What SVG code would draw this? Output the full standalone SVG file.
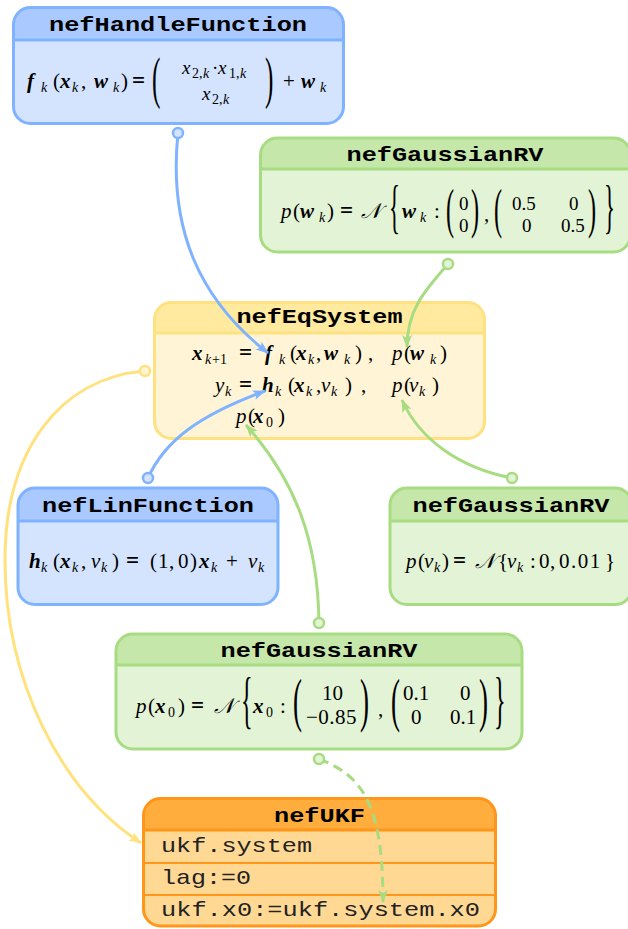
<svg xmlns="http://www.w3.org/2000/svg" width="628" height="929" viewBox="0 0 628 929">
<style>
.ttl{font-family:"Liberation Mono","DejaVu Sans Mono",monospace;font-weight:bold;font-size:21px;fill:#000;text-anchor:middle}
.row{font-family:"Liberation Mono","DejaVu Sans Mono",monospace;font-size:21px;fill:#222}
.m{font-family:"Liberation Serif","DejaVu Serif",serif;font-size:21px;fill:#000}
.i{font-style:italic}
.b{font-style:italic;font-weight:bold}
.s{font-size:14px;font-style:italic;font-weight:normal}
.n{font-size:14px;font-style:normal;font-weight:normal}
.mx{font-size:19px}
.eq{font-weight:bold;font-size:23px}
.dl{font-family:"Liberation Serif","DejaVu Serif",serif;fill:#000}
.cal{font-family:"Liberation Serif","DejaVu Serif","DejaVu Sans",serif;font-style:italic}
.bl .bd{fill:#d4e4fe}.bl .hd{fill:#a9c9ff}.bl .ol{fill:none;stroke:#80b3ff;stroke-width:3}.bl .dv{stroke:#80b3ff;stroke-width:3}
.gr .bd{fill:#e3f3d6}.gr .hd{fill:#c5e8aa}.gr .ol{fill:none;stroke:#a8dc82;stroke-width:3}.gr .dv{stroke:#a8dc82;stroke-width:3}
.ye .bd{fill:#fff5d6}.ye .hd{fill:#ffeaa0}.ye .ol{fill:none;stroke:#ffe180;stroke-width:3}.ye .dv{stroke:#ffe180;stroke-width:3}
.or .bd{fill:#ffd894}.or .hd{fill:#ffad3c}.or .ol{fill:none;stroke:#ff9619;stroke-width:3}.or .dv{stroke:#ff9619;stroke-width:3}.or .dv2{stroke:#ff9619;stroke-width:2}
.cn{fill:none;stroke-width:3}
.cb{stroke:#80b3ff;marker-start:url(#ciB);marker-end:url(#arB)}
.cg{stroke:#a8dc82;marker-start:url(#ciG);marker-end:url(#arG)}
.cy{stroke:#ffe27e;marker-start:url(#ciY);marker-end:url(#arY)}
</style>
<defs>
<marker id="arB" markerWidth="14" markerHeight="12" refX="12" refY="6" orient="auto" markerUnits="userSpaceOnUse" overflow="visible"><path d="M0,1 L13,6 L0,11 L3,6 Z" fill="#80b3ff"/></marker>
<marker id="arG" markerWidth="14" markerHeight="12" refX="12" refY="6" orient="auto" markerUnits="userSpaceOnUse" overflow="visible"><path d="M0,1 L13,6 L0,11 L3,6 Z" fill="#a8dc82"/></marker>
<marker id="arY" markerWidth="14" markerHeight="12" refX="12" refY="6" orient="auto" markerUnits="userSpaceOnUse" overflow="visible"><path d="M0,1 L13,6 L0,11 L3,6 Z" fill="#ffe27e"/></marker>
<marker id="ciB" markerWidth="14" markerHeight="14" refX="7" refY="7" markerUnits="userSpaceOnUse" overflow="visible"><circle cx="7" cy="7" r="5" fill="#d4e4fe" stroke="#80b3ff" stroke-width="2.5"/></marker>
<marker id="ciG" markerWidth="14" markerHeight="14" refX="7" refY="7" markerUnits="userSpaceOnUse" overflow="visible"><circle cx="7" cy="7" r="5" fill="#e3f3d6" stroke="#a8dc82" stroke-width="2.5"/></marker>
<marker id="ciY" markerWidth="14" markerHeight="14" refX="7" refY="7" markerUnits="userSpaceOnUse" overflow="visible"><circle cx="7" cy="7" r="5" fill="#fff5d6" stroke="#ffe27e" stroke-width="2.5"/></marker>
</defs>
<rect width="628" height="929" fill="#fff"/>

<g id="nefHandleFunction" class="bl">
<rect class="bd" x="13.5" y="7.5" width="330" height="116" rx="17"/>
<path class="hd" d="M13.5,40 V24.5 A17,17 0 0 1 30.5,7.5 H326.5 A17,17 0 0 1 343.5,24.5 V40 Z"/>
<line class="dv" x1="13.5" y1="40" x2="343.5" y2="40"/>
<rect class="ol" x="13.5" y="7.5" width="330" height="116" rx="17"/>
<text class="ttl" x="178" y="31" textLength="258" lengthAdjust="spacingAndGlyphs">nefHandleFunction</text>
<text class="m"><tspan class="b" x="27" y="88">f</tspan><tspan class="s" x="41" y="92">k</tspan><tspan x="53" y="88">(</tspan><tspan class="b" x="60" y="88">x</tspan><tspan class="s" x="72" y="92">k</tspan><tspan x="81" y="88">,</tspan><tspan class="b" x="94" y="88">w</tspan><tspan class="s" x="113" y="92">k</tspan><tspan x="121" y="88">)</tspan><tspan class="eq" x="132" y="88">=</tspan><tspan x="283" y="88">+</tspan><tspan class="b" x="301" y="88">w</tspan><tspan class="s" x="320" y="92">k</tspan></text>
<text class="m mx"><tspan class="i" x="182" y="74">x</tspan><tspan class="n" x="192" y="77.5">2,</tspan><tspan class="s" x="203" y="77.5">k</tspan><tspan x="212" y="74">·</tspan><tspan class="i" x="218" y="74">x</tspan><tspan class="n" x="229" y="77.5">1,</tspan><tspan class="s" x="240" y="77.5">k</tspan></text>
<text class="m mx"><tspan class="i" x="202" y="100">x</tspan><tspan class="n" x="212" y="103.5">2,</tspan><tspan class="s" x="223" y="103.5">k</tspan></text>
<text class="dl" font-size="56" transform="translate(152,96.5) scale(0.45,1)">(</text>
<text class="dl" font-size="56" transform="translate(265,96.5) scale(0.45,1)">)</text>
</g>

<g id="nefGaussianRV_w" class="gr">
<rect class="bd" x="260.5" y="138" width="370" height="114" rx="17"/>
<path class="hd" d="M260.5,169 V155 A17,17 0 0 1 277.5,138 H613.5 A17,17 0 0 1 630.5,155 V169 Z"/>
<line class="dv" x1="260.5" y1="169" x2="630.5" y2="169"/>
<rect class="ol" x="260.5" y="138" width="370" height="114" rx="17"/>
<text class="ttl" x="445" y="161" textLength="197" lengthAdjust="spacingAndGlyphs">nefGaussianRV</text>
<text class="m"><tspan class="i" x="281" y="218">p</tspan><tspan x="293" y="218">(</tspan><tspan class="b" x="300" y="218">w</tspan><tspan class="s" x="319" y="222">k</tspan><tspan x="327" y="218">)</tspan><tspan class="eq" x="340" y="218">=</tspan><tspan class="cal" x="361" y="218">𝒩</tspan><tspan class="b" x="402" y="218">w</tspan><tspan class="s" x="420" y="222">k</tspan><tspan x="434" y="218">:</tspan><tspan x="484" y="221">,</tspan></text>
<text class="m mx"><tspan x="459" y="210">0</tspan><tspan x="512" y="210">0.5</tspan><tspan x="569" y="210">0</tspan></text>
<text class="m mx"><tspan x="459" y="232">0</tspan><tspan x="522" y="232">0</tspan><tspan x="561" y="232">0.5</tspan></text>
<text class="dl" font-size="60" transform="translate(389,226) scale(0.38,1)">{</text>
<text class="dl" font-size="54" transform="translate(446,227) scale(0.45,1)">(</text>
<text class="dl" font-size="54" transform="translate(471,227) scale(0.45,1)">)</text>
<text class="dl" font-size="54" transform="translate(494,227) scale(0.45,1)">(</text>
<text class="dl" font-size="54" transform="translate(588,227) scale(0.45,1)">)</text>
<text class="dl" font-size="60" transform="translate(604,226) scale(0.38,1)">}</text>
</g>

<g id="nefEqSystem" class="ye">
<rect class="bd" x="154.5" y="302.5" width="330" height="136" rx="17"/>
<path class="hd" d="M154.5,333 V319.5 A17,17 0 0 1 171.5,302.5 H467.5 A17,17 0 0 1 484.5,319.5 V333 Z"/>
<line class="dv" x1="154.5" y1="333" x2="484.5" y2="333"/>
<rect class="ol" x="154.5" y="302.5" width="330" height="136" rx="17"/>
<text class="ttl" x="319.5" y="323" textLength="166" lengthAdjust="spacingAndGlyphs">nefEqSystem</text>
<text class="m"><tspan class="b" x="192" y="360">x</tspan><tspan class="s" x="205" y="364">k</tspan><tspan class="n" x="212" y="364">+1</tspan><tspan class="eq" x="239" y="360">=</tspan><tspan class="b" x="265" y="360">f</tspan><tspan class="s" x="279" y="364">k</tspan><tspan x="290" y="360">(</tspan><tspan class="b" x="296" y="360">x</tspan><tspan class="s" x="308" y="364">k</tspan><tspan x="316" y="360">,</tspan><tspan class="b" x="324" y="360">w</tspan><tspan class="s" x="344" y="364">k</tspan><tspan x="355" y="360">)</tspan><tspan x="368" y="360">,</tspan><tspan class="i" x="392" y="360">p</tspan><tspan x="404" y="360">(</tspan><tspan class="b" x="410" y="360">w</tspan><tspan class="s" x="430" y="364">k</tspan><tspan x="440" y="360">)</tspan><tspan class="i" x="215" y="392">y</tspan><tspan class="s" x="225" y="396">k</tspan><tspan class="eq" x="239" y="392">=</tspan><tspan class="b" x="262" y="392">h</tspan><tspan class="s" x="275" y="396">k</tspan><tspan x="288" y="392">(</tspan><tspan class="b" x="294" y="392">x</tspan><tspan class="s" x="306" y="396">k</tspan><tspan x="316" y="392">,</tspan><tspan class="i" x="321" y="392">v</tspan><tspan class="s" x="331" y="396">k</tspan><tspan x="345" y="392">)</tspan><tspan x="361" y="392">,</tspan><tspan class="i" x="392" y="392">p</tspan><tspan x="404" y="392">(</tspan><tspan class="i" x="409" y="392">v</tspan><tspan class="s" x="419" y="396">k</tspan><tspan x="432" y="392">)</tspan><tspan class="i" x="236" y="423">p</tspan><tspan x="248" y="423">(</tspan><tspan class="b" x="253" y="423">x</tspan><tspan class="n" x="266" y="427">0</tspan><tspan x="278" y="423">)</tspan></text>
</g>

<g id="nefLinFunction" class="bl">
<rect class="bd" x="18" y="488" width="260" height="116.5" rx="17"/>
<path class="hd" d="M18,521 V505 A17,17 0 0 1 35,488 H261 A17,17 0 0 1 278,505 V521 Z"/>
<line class="dv" x1="18" y1="521" x2="278" y2="521"/>
<rect class="ol" x="18" y="488" width="260" height="116.5" rx="17"/>
<text class="ttl" x="148" y="512" textLength="212" lengthAdjust="spacingAndGlyphs">nefLinFunction</text>
<text class="m"><tspan class="b" x="29" y="568">h</tspan><tspan class="s" x="41" y="572">k</tspan><tspan x="53" y="568">(</tspan><tspan class="b" x="60" y="568">x</tspan><tspan class="s" x="72" y="572">k</tspan><tspan x="81" y="568">,</tspan><tspan class="i" x="91" y="568">v</tspan><tspan class="s" x="101" y="572">k</tspan><tspan x="112" y="568">)</tspan><tspan class="eq" x="126" y="568">=</tspan><tspan x="150" y="568">(</tspan><tspan x="158" y="568">1</tspan><tspan x="169" y="568">,</tspan><tspan x="178" y="568">0</tspan><tspan x="190" y="568">)</tspan><tspan class="b" x="199" y="568">x</tspan><tspan class="s" x="211" y="572">k</tspan><tspan x="226" y="568">+</tspan><tspan class="i" x="248" y="568">v</tspan><tspan class="s" x="258" y="572">k</tspan></text>
</g>

<g id="nefGaussianRV_v" class="gr">
<rect class="bd" x="390" y="488" width="242" height="116.5" rx="17"/>
<path class="hd" d="M390,521 V505 A17,17 0 0 1 407,488 H615 A17,17 0 0 1 632,505 V521 Z"/>
<line class="dv" x1="390" y1="521" x2="632" y2="521"/>
<rect class="ol" x="390" y="488" width="242" height="116.5" rx="17"/>
<text class="ttl" x="511" y="512" textLength="197" lengthAdjust="spacingAndGlyphs">nefGaussianRV</text>
<text class="m"><tspan class="i" x="406" y="568">p</tspan><tspan x="418" y="568">(</tspan><tspan class="i" x="424" y="568">v</tspan><tspan class="s" x="434" y="572">k</tspan><tspan x="442" y="568">)</tspan><tspan class="eq" x="453" y="568">=</tspan><tspan class="cal" x="475" y="568">𝒩</tspan><tspan x="498" y="568">{</tspan><tspan class="i" x="507" y="568">v</tspan><tspan class="s" x="517" y="572">k</tspan><tspan x="530" y="568">:</tspan><tspan x="539" y="568">0</tspan><tspan x="550" y="568">,</tspan><tspan x="559" y="568" letter-spacing="1.5">0.01</tspan><tspan x="605" y="568">}</tspan></text>
</g>

<g id="nefGaussianRV_x0" class="gr">
<rect class="bd" x="116" y="634" width="406" height="115" rx="17"/>
<path class="hd" d="M116,665 V651 A17,17 0 0 1 133,634 H505 A17,17 0 0 1 522,651 V665 Z"/>
<line class="dv" x1="116" y1="665" x2="522" y2="665"/>
<rect class="ol" x="116" y="634" width="406" height="115" rx="17"/>
<text class="ttl" x="319" y="657" textLength="197" lengthAdjust="spacingAndGlyphs">nefGaussianRV</text>
<text class="m"><tspan class="i" x="136" y="713">p</tspan><tspan x="148" y="713">(</tspan><tspan class="b" x="155" y="713">x</tspan><tspan class="n" x="168" y="717">0</tspan><tspan x="178" y="713">)</tspan><tspan class="eq" x="191" y="713">=</tspan><tspan class="cal" x="214" y="713">𝒩</tspan><tspan class="b" x="253" y="713">x</tspan><tspan class="n" x="266" y="717">0</tspan><tspan x="280" y="713">:</tspan><tspan x="378" y="716">,</tspan></text>
<text class="m"><tspan x="322" y="700">10</tspan><tspan x="403" y="700">0.1</tspan><tspan x="460" y="700">0</tspan></text>
<text class="m"><tspan x="306" y="724" letter-spacing="0.5">−0.85</tspan><tspan x="411" y="724">0</tspan><tspan x="450" y="724">0.1</tspan></text>
<text class="dl" font-size="64" transform="translate(241,720.5) scale(0.38,1)">{</text>
<text class="dl" font-size="60" transform="translate(293,719.5) scale(0.45,1)">(</text>
<text class="dl" font-size="60" transform="translate(360,719.5) scale(0.45,1)">)</text>
<text class="dl" font-size="60" transform="translate(391,719.5) scale(0.45,1)">(</text>
<text class="dl" font-size="60" transform="translate(479,719.5) scale(0.45,1)">)</text>
<text class="dl" font-size="64" transform="translate(494,720.5) scale(0.38,1)">}</text>
</g>

<g id="nefUKF" class="or">
<rect class="bd" x="143.5" y="798.5" width="352" height="127.5" rx="17"/>
<path class="hd" d="M143.5,830 V815.5 A17,17 0 0 1 160.5,798.5 H478.5 A17,17 0 0 1 495.5,815.5 V830 Z"/>
<line class="dv" x1="143.5" y1="830" x2="495.5" y2="830"/>
<line class="dv2" x1="143.5" y1="863" x2="495.5" y2="863"/>
<line class="dv2" x1="143.5" y1="895" x2="495.5" y2="895"/>
<rect class="ol" x="143.5" y="798.5" width="352" height="127.5" rx="17"/>
<text class="ttl" x="319.5" y="822" textLength="91" lengthAdjust="spacingAndGlyphs">nefUKF</text>
<text class="row" x="161" y="852" textLength="151" lengthAdjust="spacingAndGlyphs">ukf.system</text>
<text class="row" x="161" y="884" textLength="90" lengthAdjust="spacingAndGlyphs">lag:=0</text>
<text class="row" x="161" y="916" textLength="319" lengthAdjust="spacingAndGlyphs">ukf.x0:=ukf.system.x0</text>
</g>

<g id="connectors">
<path class="cn cb" d="M178,133 C168,230 200,300 268,353"/>
<path class="cn cg" d="M448,264 C425,290 407,310 407,347"/>
<path class="cn cb" d="M148,478 C165,440 200,415 265,391"/>
<path class="cn cg" d="M512,478 C460,468 420,440 402,400"/>
<path class="cn cg" d="M319,623 C318,540 295,480 246,425"/>
<path class="cn cy" d="M145,371 C60,378 5,450 5,560 C5,680 60,790 141,843"/>
<path class="cn cg" stroke-dasharray="10 6" d="M319,759 C360,775 383,800 383,902"/>
</g>
</svg>
